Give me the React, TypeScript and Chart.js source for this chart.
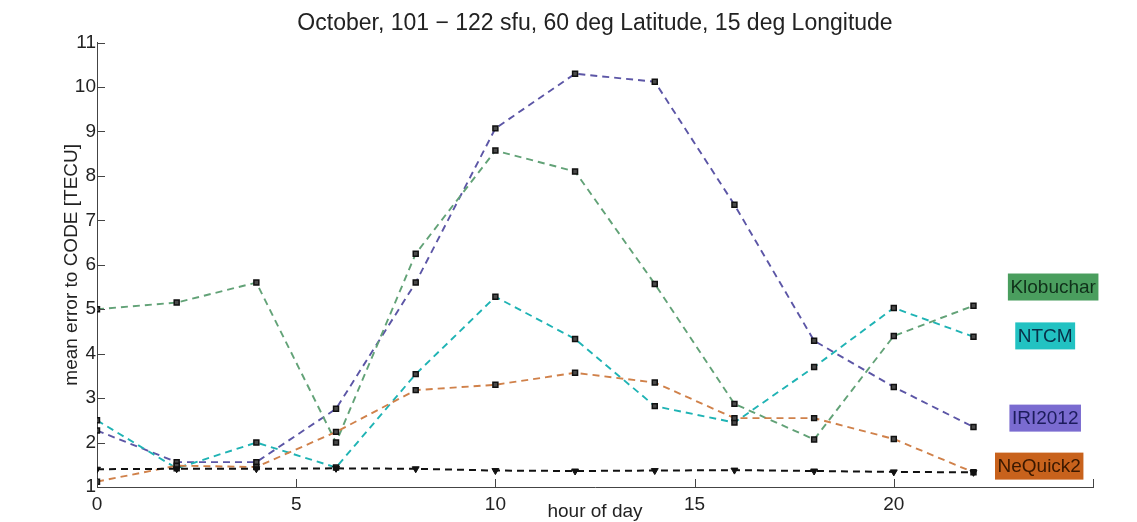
import React, { useEffect, useRef } from "react";
import { Chart, registerables } from "chart.js";

Chart.register(...registerables);

// ---- data ----
const hours = [0, 2, 4, 6, 8, 10, 12, 14, 16, 18, 20, 22];
const klobuchar = [5.0, 5.15, 5.6, 2.0, 6.25, 8.57, 8.1, 5.57, 2.87, 2.07, 4.4, 5.08];
const ntcm = [2.5, 1.42, 2.0, 1.44, 3.54, 5.28, 4.33, 2.82, 2.45, 3.7, 5.03, 4.38];
const iri2012 = [2.27, 1.56, 1.56, 2.76, 5.6, 9.07, 10.3, 10.12, 7.35, 4.29, 3.25, 2.35];
const nequick2 = [1.12, 1.48, 1.45, 2.24, 3.18, 3.3, 3.57, 3.35, 2.55, 2.55, 2.08, 1.33];
const codeRef = [1.4, 1.41, 1.41, 1.42, 1.41, 1.37, 1.36, 1.37, 1.38, 1.36, 1.34, 1.33];

const seriesNames = ["Klobuchar", "NTCM", "IRI2012", "NeQuick2"];
const xTickLabels = [0, 5, 10, 15, 20];
const yTickValues = [1, 2, 3, 4, 5, 6, 7, 8, 9, 10, 11];

const titleText = "October, 101 \u2212 122 sfu, 60 deg Latitude, 15 deg Longitude";
const xTitle = "hour of day";
const yTitle = "mean error to CODE [TECU]";

// ---- styling ----
const lineColors = ["#62a277", "#1fb3b4", "#5c56a6", "#d0814a"];
const boxColors = ["#4a9e5e", "#22c2c2", "#7a6bd0", "#c8621c"];
const boxTextColors = ["#10301a", "#083048", "#1c1c5c", "#3a1800"];
// label anchor positions in data units (x hour, y TECU)
const labelAnchors = [
  { x: 24.0, y: 5.5 },
  { x: 23.8, y: 4.4 },
  { x: 23.8, y: 2.55 },
  { x: 23.65, y: 1.47 },
];

const FONT = "'Liberation Sans', Arial, Helvetica, sans-serif";

const extrasPlugin = {
  id: "extras",
  afterDraw(chart: any) {
    const ctx = chart.ctx;
    const xs = chart.scales.x;
    const ys = chart.scales.y;
    const area = chart.chartArea;
    ctx.save();
    // inward tick marks
    ctx.strokeStyle = "#444";
    ctx.lineWidth = 1;
    ctx.beginPath();
    yTickValues.forEach((v) => {
      const y = Math.round(ys.getPixelForValue(v)) + 0.5;
      ctx.moveTo(area.left, y);
      ctx.lineTo(area.left + 8, y);
    });
    for (let v = 0; v <= 25; v += 5) {
      const x = Math.round(xs.getPixelForValue(v)) + 0.5;
      ctx.moveTo(x, area.bottom);
      ctx.lineTo(x, area.bottom - 8);
    }
    ctx.stroke();
    // coloured series labels
    ctx.font = `19px ${FONT}`;
    ctx.textAlign = "center";
    ctx.textBaseline = "middle";
    seriesNames.forEach((name, i) => {
      const cx = xs.getPixelForValue(labelAnchors[i].x);
      const cy = ys.getPixelForValue(labelAnchors[i].y);
      const w = ctx.measureText(name).width + 5;
      const h = 27;
      ctx.fillStyle = boxColors[i];
      ctx.fillRect(cx - w / 2, cy - h / 2, w, h);
      ctx.fillStyle = boxTextColors[i];
      ctx.fillText(name, cx, cy + 1);
    });
    ctx.restore();
  },
};

function makeSeries(label: string, values: number[], color: string) {
  return {
    label,
    data: hours.map((h, i) => ({ x: h, y: values[i] })),
    borderColor: color,
    borderWidth: 1.9,
    borderDash: [7, 5],
    pointStyle: "rect",
    pointRadius: 3.5,
    pointBackgroundColor: "#4a4a4a",
    pointBorderColor: "#111",
    pointBorderWidth: 1.5,
    fill: false,
    tension: 0,
  };
}

export default function App() {
  const canvasRef = useRef<HTMLCanvasElement | null>(null);

  useEffect(() => {
    if (!canvasRef.current) return;
    const chart = new Chart(canvasRef.current, {
      type: "line",
      data: {
        datasets: [
          {
            label: "CODE",
            data: hours.map((h, i) => ({ x: h, y: codeRef[i] })),
            borderColor: "#111",
            borderWidth: 2,
            borderDash: [7, 5],
            pointStyle: "triangle",
            rotation: 180,
            pointRadius: 4,
            pointBackgroundColor: "#111",
            pointBorderColor: "#111",
            pointBorderWidth: 1,
            fill: false,
          } as any,
          makeSeries(seriesNames[3], nequick2, lineColors[3]),
          makeSeries(seriesNames[0], klobuchar, lineColors[0]),
          makeSeries(seriesNames[1], ntcm, lineColors[1]),
          makeSeries(seriesNames[2], iri2012, lineColors[2]),
        ],
      },
      options: {
        animation: false,
        responsive: true,
        maintainAspectRatio: false,
        layout: { padding: { left: 0, right: 44, top: 0, bottom: 0 } },
        plugins: {
          legend: { display: false },
          tooltip: { enabled: false },
          title: {
            display: true,
            text: titleText,
            fullSize: false,
            color: "#222",
            font: { family: FONT, size: 23, weight: "normal", lineHeight: 1.2 },
            padding: { top: 10, bottom: 5 },
          },
        },
        scales: {
          x: {
            type: "linear",
            min: 0,
            max: 25,
            grid: { display: false, drawTicks: false },
            border: { display: true, color: "#444", width: 1 },
            ticks: {
              stepSize: 5,
              autoSkip: false,
              maxRotation: 0,
              padding: 6,
              color: "#222",
              font: { family: FONT, size: 19 },
              callback: (v: any) => (xTickLabels.includes(Number(v)) ? String(v) : ""),
            },
            title: {
              display: true,
              text: xTitle,
              color: "#222",
              font: { family: FONT, size: 19, lineHeight: 1 },
              padding: { top: 0, bottom: 1 },
            },
            afterFit: (s: any) => {
              s.height = 35;
            },
          },
          y: {
            type: "linear",
            min: 1,
            max: 11,
            grid: { display: false, drawTicks: false },
            border: { display: true, color: "#444", width: 1 },
            ticks: {
              stepSize: 1,
              padding: 1,
              color: "#222",
              font: { family: FONT, size: 19 },
            },
            title: {
              display: true,
              text: yTitle,
              color: "#222",
              font: { family: FONT, size: 19, lineHeight: 1.2 },
              padding: { top: 60, bottom: 0 },
            },
            afterFit: (s: any) => {
              s.width = 97;
            },
          },
        },
      } as any,
      plugins: [extrasPlugin],
    });
    return () => chart.destroy();
  }, []);

  return (
    <div style={{ position: "fixed", left: 0, top: 0, width: 1137, height: 522, background: "#fff" }}>
      <canvas ref={canvasRef} />
    </div>
  );
}
